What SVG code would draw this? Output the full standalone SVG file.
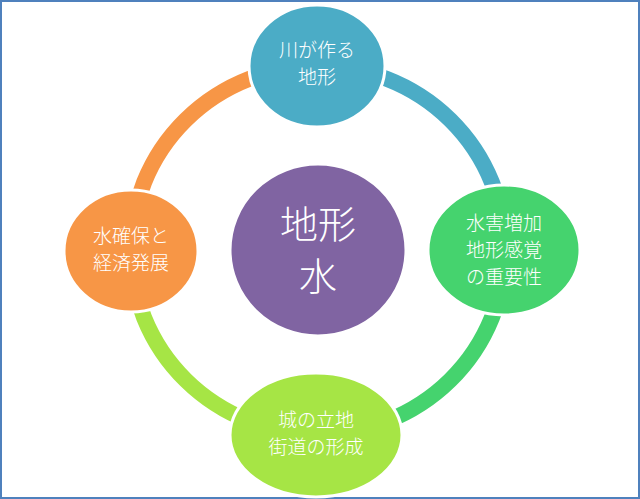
<svg xmlns="http://www.w3.org/2000/svg" width="640" height="499" viewBox="0 0 640 499">
<style>
.seg{fill:none;stroke-width:16}
.n{stroke:#fff;stroke-width:3}
text{fill:#fff;font-family:"Noto Sans CJK JP",sans-serif;text-anchor:middle;font-weight:300}
.t{font-size:19px}
.c{font-size:38px}
</style>
<rect x="1" y="1" width="638" height="497" fill="#fff" stroke="#4F81BD" stroke-width="2"/>
<g id="connectors">
<path class="seg" stroke="#F79646" d="M131,250 A187,184 0 0 1 318,66"/>
<path class="seg" stroke="#4BACC6" d="M318,66 A187,184 0 0 1 505,250"/>
<path class="seg" stroke="#45D36E" d="M505,250 A187,184 0 0 1 318,434"/>
<path class="seg" stroke="#A6E545" d="M318,434 A187,184 0 0 1 131,250"/>
</g>
<g id="center"><ellipse class="n" cx="318" cy="250" rx="88" ry="86" fill="#8064A2"/>
<text class="c" x="318" y="238">地形</text><text class="c" x="318" y="290">水</text></g>
<g id="top"><ellipse class="n" cx="317" cy="66" rx="68" ry="61" fill="#4BACC6"/>
<text class="t" x="317" y="57">川が作る</text><text class="t" x="317" y="84">地形</text></g>
<g id="right"><ellipse class="n" cx="504" cy="250" rx="76" ry="65" fill="#45D36E"/>
<text class="t" x="504" y="230">水害増加</text><text class="t" x="504" y="257">地形感覚</text><text class="t" x="504" y="284">の重要性</text></g>
<g id="bottom"><ellipse class="n" cx="316" cy="435" rx="86" ry="62" fill="#A6E545"/>
<text class="t" x="316" y="427">城の立地</text><text class="t" x="316" y="454">街道の形成</text></g>
<g id="left"><ellipse class="n" cx="131" cy="251" rx="67" ry="61" fill="#F79646"/>
<text class="t" x="131" y="243">水確保と</text><text class="t" x="131" y="270">経済発展</text></g>
</svg>
